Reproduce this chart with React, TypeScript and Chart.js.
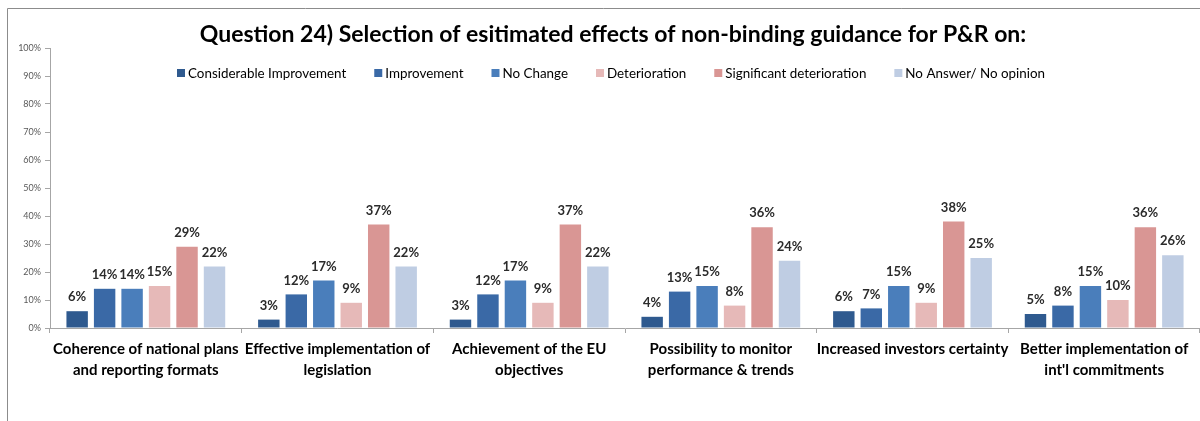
import React, { useEffect, useRef } from "react";
import { Chart, registerables } from "chart.js";

Chart.register(...registerables);

const TITLE = "Question 24) Selection of esitimated effects of non-binding guidance for P&R on:";

const categories: string[][] = [
  ["Coherence of national plans", "and reporting formats"],
  ["Effective implementation of", "legislation"],
  ["Achievement of the EU", "objectives"],
  ["Possibility to monitor", "performance & trends"],
  ["Increased investors certainty"],
  ["Better implementation of", "int'l commitments"],
];

const seriesNames = [
  "Considerable Improvement",
  "Improvement",
  "No Change",
  "Deterioration",
  "Significant deterioration",
  "No Answer/ No opinion",
];

const considerableImprovement = [6, 3, 3, 4, 6, 5];
const improvement = [14, 12, 12, 13, 7, 8];
const noChange = [14, 17, 17, 15, 15, 15];
const deterioration = [15, 9, 9, 8, 9, 10];
const significantDeterioration = [29, 37, 37, 36, 38, 36];
const noAnswer = [22, 22, 22, 24, 25, 26];

const seriesColors = ["#2F5A8F", "#3A69A6", "#4A7EBB", "#E6B9B8", "#D99694", "#BFCDE3"];

const yTicks = [0, 10, 20, 30, 40, 50, 60, 70, 80, 90, 100];

const FONT = "Lato, 'Open Sans', sans-serif";

const decorPlugin = {
  id: "decor",
  beforeDraw(chart: any) {
    const ctx = chart.ctx;
    ctx.save();
    ctx.strokeStyle = "#8C8C8C";
    ctx.lineWidth = 1;
    ctx.beginPath();
    ctx.moveTo(7.5, chart.height);
    ctx.lineTo(7.5, 8.5);
    ctx.lineTo(chart.width, 8.5);
    ctx.stroke();
    ctx.restore();
  },
  afterDraw(chart: any) {
    const ctx = chart.ctx;
    ctx.save();
    // title
    ctx.fillStyle = "#000000";
    ctx.font = `bold 23px ${FONT}`;
    ctx.textAlign = "center";
    ctx.textBaseline = "middle";
    ctx.fillText(TITLE, 613, 35, 834);

    // legend
    ctx.font = `13.4px ${FONT}`;
    ctx.textAlign = "left";
    ctx.textBaseline = "middle";
    let x = 177;
    const ly = 73;
    chart.data.datasets.forEach((ds: any) => {
      ctx.fillStyle = ds.backgroundColor;
      ctx.fillRect(x, ly - 4, 8, 8);
      ctx.fillStyle = "#000000";
      ctx.fillText(ds.label, x + 11, ly + 0.5);
      x += 11 + ctx.measureText(ds.label).width + 28;
    });

    // data labels
    ctx.font = `bold 13px ${FONT}`;
    ctx.fillStyle = "#2B2B2B";
    ctx.textAlign = "center";
    ctx.textBaseline = "middle";
    chart.data.datasets.forEach((ds: any, i: number) => {
      const meta = chart.getDatasetMeta(i);
      meta.data.forEach((bar: any, j: number) => {
        ctx.fillText(`${ds.data[j]}%`, bar.x, bar.y - 14);
      });
    });
    ctx.restore();
  },
};

export default function App() {
  const ref = useRef<HTMLCanvasElement | null>(null);

  useEffect(() => {
    if (!ref.current) return;
    const values = [
      considerableImprovement,
      improvement,
      noChange,
      deterioration,
      significantDeterioration,
      noAnswer,
    ];
    const chart = new Chart(ref.current, {
      type: "bar",
      data: {
        labels: categories,
        datasets: values.map((v, i) => ({
          label: seriesNames[i],
          data: v,
          backgroundColor: seriesColors[i],
          borderWidth: 0,
          categoryPercentage: 0.86,
          barPercentage: 0.78,
        })),
      },
      options: {
        animation: false,
        responsive: false,
        layout: { padding: { top: 48, left: 8, right: 0, bottom: 28 } },
        plugins: {
          legend: { display: false },
          title: { display: false },
          tooltip: { enabled: false },
        },
        scales: {
          x: {
            offset: true,
            grid: {
              display: true,
              offset: true,
              drawOnChartArea: false,
              drawTicks: true,
              tickLength: 5,
              color: "#A6A6A6",
            },
            border: { color: "#A6A6A6" },
            ticks: {
              color: "#000000",
              font: { family: FONT, size: 15, weight: "bold", lineHeight: 1.4 },
              padding: 6,
              maxRotation: 0,
              autoSkip: false,
            },
            afterFit(scale: any) {
              scale.height = 65;
            },
          },
          y: {
            min: 0,
            max: 100,
            grid: {
              display: true,
              drawOnChartArea: false,
              drawTicks: true,
              tickLength: 5,
              color: "#A6A6A6",
            },
            border: { color: "#A6A6A6" },
            afterBuildTicks(scale: any) {
              scale.ticks = yTicks.map((v) => ({ value: v }));
            },
            ticks: {
              color: "#595959",
              font: { family: FONT, size: 9 },
              padding: 4,
              callback: (v: any) => `${v}%`,
            },
            afterFit(scale: any) {
              scale.width = 42;
            },
          },
        },
      },
      plugins: [decorPlugin],
    });
    return () => chart.destroy();
  }, []);

  return (
    <div style={{ position: "absolute", left: 0, top: 0, width: 1200, height: 421, background: "#fff" }}>
      <canvas ref={ref} width={1200} height={421} />
    </div>
  );
}
